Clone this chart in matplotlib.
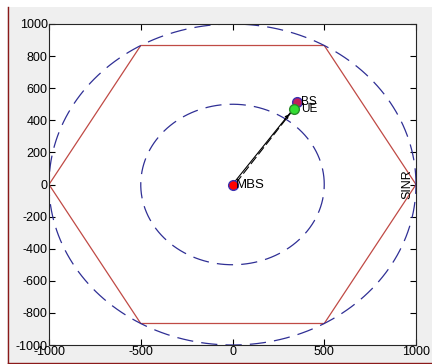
import numpy as np
import matplotlib.pyplot as plt
from matplotlib.lines import Line2D
from matplotlib.patches import Rectangle

plt.rcParams['font.family'] = ['Liberation Sans', 'DejaVu Sans']
plt.rcParams['font.size'] = 9
plt.rcParams['axes.unicode_minus'] = False

# cell layout
hex_radius = 1000
ring_radii = [1000, 500]

# node positions
mbs_xy = [0, 0]
bs_xy = [350, 511]
ue_xy = [333, 473]
# link lines
link_solid = [[0, 0], [333, 473]]
link_dashed = [[18, 8], [322, 452]]

ticks = [-1000, -800, -600, -400, -200, 0, 200, 400, 600, 800, 1000]
xticks = [-1000, -500, 0, 500, 1000]

fig = plt.figure(figsize=(4.32, 3.64), dpi=100)
fig.patch.set_facecolor('#efefef')
ax = fig.add_axes([49 / 432, 19 / 364, 367 / 432, 321 / 364])

# hexagon cell edge
ang = np.deg2rad(np.arange(0, 361, 60))
ax.plot(hex_radius * np.cos(ang), hex_radius * np.sin(ang), color='#c04a45', lw=0.9)

# dashed rings
t = np.linspace(0, 2 * np.pi, 400)
for r in ring_radii:
    ax.plot(r * np.cos(t), r * np.sin(t), color='#2f2f95', lw=0.9,
            dashes=(13, 6.5))

# links
ax.plot([link_solid[0][0], link_solid[1][0]], [link_solid[0][1], link_solid[1][1]],
        color='k', lw=0.8)
ax.plot([link_dashed[0][0], link_dashed[1][0]], [link_dashed[0][1], link_dashed[1][1]],
        color='k', lw=0.8, dashes=(8, 3))
ax.annotate('', xy=(ue_xy[0] - 15, ue_xy[1] - 22), xytext=(ue_xy[0] - 60, ue_xy[1] - 85),
            arrowprops=dict(arrowstyle='-|>', color='k', lw=0.6, mutation_scale=6))

# nodes
ax.plot(*mbs_xy, 'o', ms=7, mfc='red', mec='#3a2fb0', mew=1)
ax.plot(*bs_xy, 'o', ms=7, mfc='#c0205a', mec='#3a2fb0', mew=1)
ax.plot(*ue_xy, 'o', ms=7, mfc='#33dd33', mec='#2a8a2a', mew=1)
ax.text(mbs_xy[0] + 20, mbs_xy[1], 'MBS', fontsize=9.5, va='center', ha='left')
ax.text(bs_xy[0] + 25, bs_xy[1], 'BS', fontsize=8.5, va='center', ha='left')
ax.text(ue_xy[0] + 40, ue_xy[1], 'UE', fontsize=8.5, va='center', ha='left')
ax.text(955, 0, 'SINR', rotation=90, fontsize=9, va='center', ha='center')

ax.set_xlim(-1000, 1000)
ax.set_ylim(-1000, 1000)
ax.set_xticks(xticks)
ax.set_yticks(ticks)
ax.tick_params(direction='in', length=4, width=0.8, pad=1, labelsize=9,
               top=True, right=True)
for s in ax.spines.values():
    s.set_linewidth(0.8)
    s.set_color('#262626')

# window edges
fig.add_artist(Rectangle((0, 1 - 7 / 364), 1, 7 / 364, transform=fig.transFigure,
                         facecolor='white', edgecolor='none'))
fig.add_artist(Rectangle((0, 0), 7 / 432, 1, transform=fig.transFigure,
                         facecolor='white', edgecolor='none'))
fig.add_artist(Line2D([8 / 432, 8 / 432], [1.5 / 364, 1 - 7 / 364], transform=fig.transFigure,
                      color='#8b1a1a', lw=1))
fig.add_artist(Line2D([8 / 432, 1], [1.5 / 364, 1.5 / 364], transform=fig.transFigure,
                      color='#8b1a1a', lw=1))

fig.savefig('out.png', dpi=100, facecolor=fig.get_facecolor())
